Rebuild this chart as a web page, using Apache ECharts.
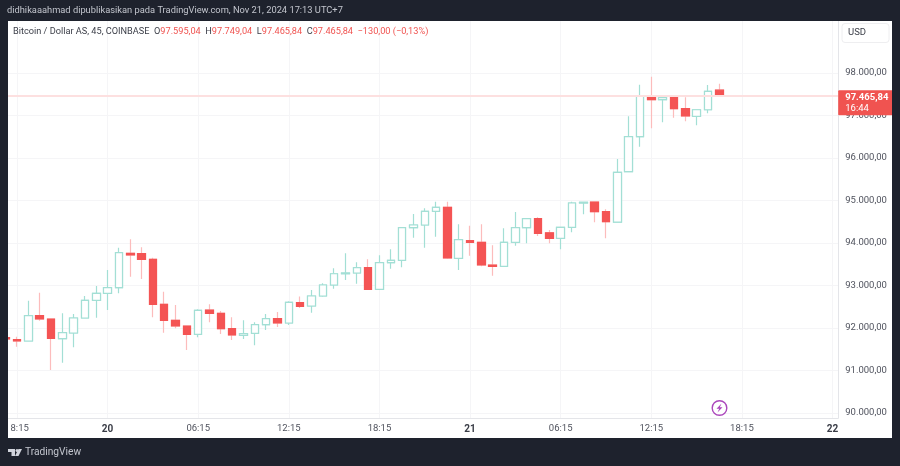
<!DOCTYPE html>
<html>
<head>
<meta charset="utf-8">
<title>Bitcoin / Dollar AS</title>
<script src="https://cdn.jsdelivr.net/npm/echarts@6/dist/echarts.min.js"></script>
<style>
	html, body { margin: 0; padding: 0; background: #1e222d; }
	#main { width: 900px; height: 466px; }
</style>
</head>
<body>
<div id="main"></div>
<script>
// 45 menit per candle, label hari ditulis sebagai angka tanggal
var categories = [
	'17:30','18:15','19:00','19:45','20:30','21:15','22:00','22:45','23:30',
	'20','01:00','01:45','02:30','03:15','04:00','04:45','05:30',
	'06:15','07:00','07:45','08:30','09:15','10:00','10:45','11:30',
	'12:15','13:00','13:45','14:30','15:15','16:00','16:45','17:30',
	'18:15','19:00','19:45','20:30','21:15','22:00','22:45','23:30',
	'21','01:00','01:45','02:30','03:15','04:00','04:45','05:30',
	'06:15','07:00','07:45','08:30','09:15','10:00','10:45','11:30',
	'12:15','13:00','13:45','14:30','15:15','16:00','16:45','17:30',
	'18:15','19:00','19:45','20:30','21:15','22:00','22:45','23:30',
	'22'
]
var openValues = [
	91776,91729,91694,92289,92212,91748,91882,92235,92652,92816,
	92948,93758,93750,93616,92558,92181,92047,91852,92423,92346,
	91983,91828,91875,92078,92219,92117,92595,92518,92753,93012,
	93277,93294,93419,92910,93536,93593,94360,94423,94746,94840,
	93640,94054,94016,93482,93452,94016,94360,94572,94240,94110,
	94369,94941,94965,94736,94490,95680,96501,97452,97372,97419,
	97160,96981,97136,97595.04
]
var closeValues = [
	91741,91694,92289,92212,91757,91889,92235,92652,92816,92948,
	93772,93718,93616,92558,92181,92047,91852,92416,92346,91983,
	91835,91866,92078,92219,92117,92605,92506,92753,93012,93277,
	93294,93419,92910,93536,93593,94360,94423,94746,94840,93647,
	94078,94016,93482,93452,94016,94360,94572,94228,94110,94369,
	94941,94958,94736,94501,95663,96501,97452,97372,97419,97160,
	96988,97136,97569,97465.84
]
var lowValues = [
	91730,91560,91694,92172,91012,91183,91546,92235,92242,92423,
	92816,93207,93153,92252,91889,91993,91482,91781,92134,91859,
	91717,91741,91593,91953,92023,92070,92470,92360,92736,92925,
	93129,93042,92910,92910,93395,93428,94125,93889,94148,93630,
	93365,93701,93452,93230,93452,93936,93993,94165,93993,93852,
	94252,94675,94487,94110,94490,95680,96266,96699,96840,96948,
	96864,96769,97052,97465.84
]
var highValues = [
	91790,91795,92642,92830,92212,92346,92329,92753,92988,93365,
	93889,94087,93899,93654,92854,92541,92047,92440,92558,92400,
	92252,92181,92134,92329,92376,92628,92741,92894,93052,93405,
	93758,93546,93616,93710,93852,94370,94682,94816,94972,94972,
	94440,94407,94440,93946,94346,94729,94572,94605,94306,94369,
	94972,94965,94965,94793,95976,96981,97725,97913,97428,97425,
	97428,97136,97718,97749.04
]
var priceTicks = [90000,91000,92000,93000,94000,95000,96000,97000,98000]
var lastPrice = 97465.84
var lastPriceLabel = '97.465,84'
var countdownLabel = '16:44'

var candleData = []
var bodyData = []
for (var i = 0; i < openValues.length; i++) {
	candleData.push([openValues[i], closeValues[i], lowValues[i], highValues[i]])
	bodyData.push([
		openValues[i],
		closeValues[i],
		Math.min(openValues[i], closeValues[i]),
		Math.max(openValues[i], closeValues[i])
	])
}

function isTimeTick(index) {
	return index % 8 === 1
}

function formatPrice(value) {
	var parts = value.toFixed(2).split('.')
	return parts[0].replace(/\B(?=(\d{3})+$)/g, '.') + ',' + parts[1]
}

var fontName = 'Roboto, sans-serif'
var chart = echarts.init(document.getElementById('main'))

var option = {
	backgroundColor: '#ffffff',
	animation: false,
	textStyle: { fontFamily: fontName },
	grid: {
		left: -1,
		width: 839.2,
		top: 21,
		height: 397
	},
	xAxis: {
		type: 'category',
		data: categories,
		axisLine: { lineStyle: { color: '#e4e5e9', width: 1 } },
		axisTick: { show: false, alignWithLabel: true, interval: function(index) { return isTimeTick(index) } },
		splitLine: {
			show: true,
			alignWithLabel: true,
			interval: function(index) { return isTimeTick(index) },
			lineStyle: { color: '#f5f5f7' }
		},
		axisLabel: {
			interval: function(index) { return isTimeTick(index) },
			margin: 6,
			fontSize: 9.5,
			color: '#50535e',
			formatter: function(value) {
				return value.length === 2 ? '{day|' + value + '}' : value
			},
			rich: {
				day: { fontSize: 10, fontWeight: 'bold', color: '#3a3d47', fontFamily: fontName }
			}
		}
	},
	yAxis: {
		type: 'value',
		position: 'right',
		min: 89882,
		max: 99224,
		axisLine: { show: true, lineStyle: { color: '#e4e5e9', width: 1 } },
		axisTick: { show: false, customValues: priceTicks },
		splitLine: { show: true, lineStyle: { color: '#f5f5f7' } },
		axisLabel: {
			customValues: priceTicks,
			margin: 7,
			fontSize: 9.5,
			color: '#50535e',
			formatter: function(value) { return formatPrice(value) }
		}
	},
	series: [
		{
			// lapisan sumbu: sumbu merah lebih pucat dari badan candle
			name: 'wick',
			type: 'candlestick',
			barWidth: 8,
			silent: true,
			data: candleData,
			itemStyle: {
				color: '#ffffff',
				color0: '#fcbcbc',
				borderColor: '#a3dfd5',
				borderColor0: '#fcbcbc',
				borderWidth: 1.2
			},
			markLine: {
				silent: true,
				symbol: 'none',
				data: [{
					yAxis: lastPrice,
					lineStyle: { color: '#fde0e0', type: 'solid', width: 2 }
				}],
				label: {
					show: true,
					position: 'end',
					distance: 0,
					offset: [0, 7],
					formatter: '{price|' + lastPriceLabel + '}\n{time|' + countdownLabel + '}',
					backgroundColor: '#f05350',
					borderRadius: 1,
					padding: [2, 5, 1, 7],
					rich: {
						price: { color: '#ffffff', fontSize: 9.5, fontWeight: 'bold', lineHeight: 11, fontFamily: fontName },
						time: { color: '#ffffff', fontSize: 9.5, lineHeight: 11, width: 42, fontFamily: fontName }
					}
				}
			}
		},
		{
			name: 'body',
			type: 'candlestick',
			barWidth: 8,
			silent: true,
			data: bodyData,
			itemStyle: {
				color: '#ffffff',
				color0: '#f45454',
				borderColor: '#a3dfd5',
				borderColor0: '#f45454',
				borderWidth: 1.2
			}
		}
	],
	graphic: [
		// bingkai gelap dan teks judul
		{ type: 'rect', z: 50, silent: true, shape: { x: 0, y: 0, width: 900, height: 21 }, style: { fill: '#1e222d' } },
		{ type: 'rect', z: 50, silent: true, shape: { x: 0, y: 0, width: 8, height: 466 }, style: { fill: '#1e222d' } },
		{ type: 'rect', z: 50, silent: true, shape: { x: 892, y: 0, width: 8, height: 466 }, style: { fill: '#1e222d' } },
		{ type: 'rect', z: 50, silent: true, shape: { x: 0, y: 438, width: 900, height: 28 }, style: { fill: '#1e222d' } },
		// label waktu pertama terpotong di tepi kiri
		{ type: 'rect', z: 49, silent: true, shape: { x: 8, y: 420, width: 1.8, height: 16 }, style: { fill: '#ffffff' } },
		{
			type: 'text', z: 51, silent: true, x: 7, y: 6,
			style: {
				text: 'didhikaaahmad dipublikasikan pada TradingView.com, Nov 21, 2024 17:13 UTC+7',
				fill: '#c3c6ce', fontSize: 9.3, fontFamily: fontName
			}
		},
		{
			type: 'text', z: 51, silent: true, x: 13, y: 27,
			style: {
				text: '{n|Bitcoin / Dollar AS, 45, COINBASE}  {n|O}{r|97.595,04}  {n|H}{r|97.749,04}  {n|L}{r|97.465,84}  {n|C}{r|97.465,84}  {r|\u2212130,00 (\u22120,13%)}',
				fontSize: 9.2,
				fontFamily: fontName,
				rich: {
					n: { fill: '#3a3d47', fontSize: 9.2, fontFamily: fontName },
					r: { fill: '#f05350', fontSize: 9.2, fontFamily: fontName }
				}
			}
		},
		// tombol mata uang
		{
			type: 'rect', z: 51, silent: true,
			shape: { x: 842, y: 23.5, width: 47, height: 19, r: 3 },
			style: { fill: '#ffffff', stroke: '#eeeef0', lineWidth: 1 }
		},
		{
			type: 'text', z: 52, silent: true, x: 848, y: 28,
			style: { text: 'USD', fill: '#3a3d47', fontSize: 9.5, fontFamily: fontName }
		},
		// ikon kilat
		{
			type: 'circle', z: 51, silent: true,
			shape: { cx: 719.5, cy: 408, r: 7.3 },
			style: { fill: '#ffffff', stroke: '#ab47bc', lineWidth: 1.4 }
		},
		{
			type: 'polygon', z: 52, silent: true,
			shape: { points: [[721.5, 403.5], [716.5, 408.8], [719.2, 408.8], [717.5, 412.5], [722.5, 407.2], [719.8, 407.2]] },
			style: { fill: '#ab47bc' }
		},
		// logo TradingView
		{
			type: 'polygon', z: 51, silent: true,
			shape: { points: [[8, 449], [15, 449], [15, 456], [11.5, 456], [11.5, 452], [8, 452]] },
			style: { fill: '#d1d4dc' }
		},
		{
			type: 'circle', z: 51, silent: true,
			shape: { cx: 17, cy: 450.5, r: 1.5 },
			style: { fill: '#d1d4dc' }
		},
		{
			type: 'polygon', z: 51, silent: true,
			shape: { points: [[18.5, 449], [22, 449], [18.5, 456], [15, 456]] },
			style: { fill: '#d1d4dc' }
		},
		{
			type: 'text', z: 51, silent: true, x: 25, y: 447,
			style: { text: 'TradingView', fill: '#c3c6ce', fontSize: 10.2, fontFamily: fontName }
		}
	]
}

chart.setOption(option)

window.addEventListener('resize', function() {
	chart.resize()
})
</script>
</body>
</html>
